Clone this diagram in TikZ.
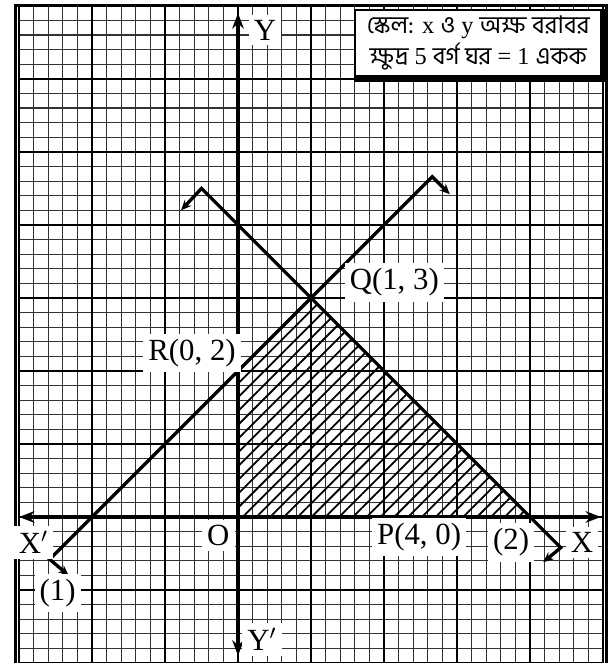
\documentclass[tikz,border=0pt]{standalone}
\usepackage{fontspec}
\setmainfont{Liberation Serif}
\newfontfamily\bnfont[Script=Bengali]{Hind Siliguri}
\usetikzlibrary{arrows.meta, positioning, patterns.meta}

\begin{document}
\begin{tikzpicture}[font=\fontsize{12}{14}\selectfont,
    lbl/.style={fill=white, inner sep=2pt},
    axis/.style={line width=1.4pt, {Stealth[length=6pt, width=4.5pt]}-{Stealth[length=6pt, width=4.5pt]}},
    bound/.style={line width=1.3pt, {Stealth[length=4pt, width=3.5pt]}-{Stealth[length=4pt, width=3.5pt]}},
    minor/.style={line width=0.45pt, black!80},
    major/.style={line width=1pt}]
    \useasboundingbox (-3.26,-2.0) rectangle (5.15,7.08);

    \draw[minor, step=0.2] (-3,-2) grid (5,7);
    \draw[major, step=1] (-3,-2) grid (5,7);
    \draw[line width=1.2pt] (-3.05,-2.2) -- (-3.05,7) -- (5.05,7) -- (5.05,-2.2);

    \coordinate (O) at (0,0);
    \coordinate (P) at (4,0);
    \coordinate (Q) at (1,3);
    \coordinate (R) at (0,2);
    \fill[pattern={Lines[angle=45, distance=3.8pt, line width=0.7pt]}] (O) -- (P) -- (Q) -- (R) -- cycle;

    \coordinate (xl) at (-3.0,0);
    \coordinate (xr) at (4.97,0);
    \coordinate (yb) at (0,-1.9);
    \coordinate (yt) at (0,6.9);
    \draw[axis] (xl) -- (xr);
    \draw[axis] (yb) -- (yt);

    \coordinate (a1) at (-2.58,-0.58);
    \coordinate (h1) at (-2.32,-0.80);
    \coordinate (b1) at (2.66,4.66);
    \coordinate (k1) at (2.90,4.42);
    \draw[bound] (h1) -- (a1) -- (b1) -- (k1);

    \coordinate (a2) at (-0.5,4.5);
    \coordinate (h2) at (-0.78,4.2);
    \coordinate (b2) at (4.42,-0.42);
    \coordinate (k2) at (4.18,-0.62);
    \draw[bound] (h2) -- (a2) -- (b2) -- (k2);

    \node[lbl] (ylab) at (0.37,6.67) {Y};
    \node[lbl] (yplab) at (0.33,-1.68) {Y$'$};
    \node[lbl] (xplab) at (-2.8,-0.35) {X$'$};
    \node[lbl] (xlab) at (4.71,-0.35) {X};
    \node[lbl] (olab) at (-0.27,-0.25) {O};
    \node[lbl] (plab) at (2.48,-0.27) {P(4, 0)};
    \node[lbl] (qlab) at (2.14,3.21) {Q(1, 3)};
    \node[lbl] (rlab) at (-0.63,2.25) {R(0, 2)};
    \node[lbl] (l1lab) at (-2.47,-1.04) {(1)};
    \node[lbl] (l2lab) at (3.74,-0.35) {(2)};

    \node[draw, line width=1pt, fill=white, minimum width=3.38cm, minimum height=0.91cm,
      align=center, inner sep=1pt, font=\fontsize{9.5}{12}\selectfont] (scale) at (3.29,6.49)
      {{\bnfont স্কেল:} x {\bnfont ও} y {\bnfont অক্ষ বরাবর}\\
       {\bnfont ক্ষুদ্র} 5 {\bnfont বর্গ ঘর} = 1 {\bnfont একক}};
    \draw[line width=1.6pt] ([xshift=1pt]scale.north east) -- ([xshift=1pt, yshift=-1pt]scale.south east)
      -- ([yshift=-1pt]scale.south west);
\end{tikzpicture}
\end{document}
